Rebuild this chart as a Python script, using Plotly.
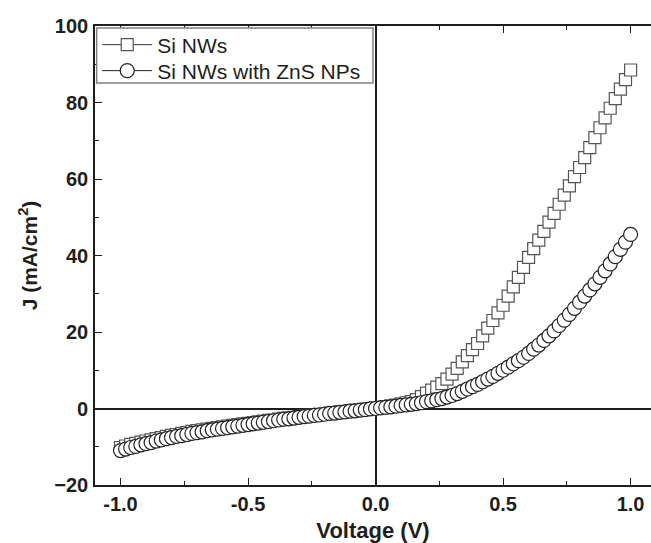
import plotly.graph_objects as go

voltage = [round(-1.0 + 0.02 * i, 2) for i in range(101)]

j_si_nws = [
    -10.2, -9.8, -9.4, -9.1, -8.8, -8.5, -8.2, -7.9, -7.6, -7.3,
    -7.0, -6.8, -6.5, -6.3, -6.0, -5.8, -5.6, -5.4, -5.2, -5.0,
    -4.8, -4.6, -4.4, -4.2, -4.0, -3.9, -3.7, -3.5, -3.3, -3.1,
    -3.0, -2.8, -2.6, -2.5, -2.3, -2.1, -2.0, -1.8, -1.7, -1.5,
    -1.4, -1.2, -1.1, -0.9, -0.8, -0.6, -0.5, -0.3, -0.2, 0.0,
    0.1,
    0.3, 0.5, 0.7, 0.9, 1.2, 1.5, 1.8, 2.3, 3.1, 4.0,
    4.8, 5.6, 6.5, 7.7, 9.0, 10.5, 12.2, 13.8, 15.4, 17.0,
    19.0, 21.0, 23.0, 25.0, 27.0, 29.4, 31.8, 34.3, 36.9, 39.5,
    41.8, 44.0, 46.3, 48.7, 51.0, 53.4, 55.8, 58.2, 60.6, 63.0,
    65.6, 68.2, 70.8, 73.4, 76.0, 78.5, 81.0, 83.5, 86.0, 88.5,
]

j_si_nws_zns = [
    -11.0, -10.6, -10.2, -9.9, -9.5, -9.2, -8.9, -8.5, -8.2, -7.9,
    -7.6, -7.3, -7.1, -6.8, -6.5, -6.3, -6.1, -5.8, -5.6, -5.4,
    -5.2, -5.0, -4.8, -4.6, -4.4, -4.2, -4.0, -3.8, -3.6, -3.4,
    -3.2, -3.0, -2.8, -2.7, -2.5, -2.3, -2.1, -2.0, -1.8, -1.7,
    -1.5, -1.3, -1.2, -1.0, -0.9, -0.7, -0.6, -0.4, -0.3, -0.1,
    0.0,
    0.15, 0.3, 0.45, 0.6, 0.8, 0.95, 1.1, 1.3, 1.5, 1.8,
    2.0, 2.3, 2.6, 3.0, 3.4, 3.9, 4.5, 5.1, 5.7, 6.3,
    7.0, 7.7, 8.4, 9.2, 10.0, 10.8, 11.7, 12.5, 13.4, 14.4,
    15.5, 16.6, 17.8, 19.0, 20.3, 21.7, 23.1, 24.6, 26.2, 27.8,
    29.4, 31.0, 32.6, 34.3, 36.0, 37.8, 39.7, 41.6, 43.5, 45.5,
]

series_names = ["Si NWs", "Si NWs with ZnS NPs"]
x_ticks = [-1.0, -0.5, 0.0, 0.5, 1.0]
x_tick_labels = ["-1.0", "-0.5", "0.0", "0.5", "1.0"]
y_ticks = [-20, 0, 20, 40, 60, 80, 100]

font_family = "Liberation Sans, Arial, sans-serif"
ink = "#1e1e1e"

fig = go.Figure()
fig.add_trace(go.Scatter(
    x=voltage, y=j_si_nws, name=series_names[0], mode="lines+markers",
    legend="legend",
    line=dict(color="#333333", width=1),
    marker=dict(symbol="square", size=12, color="white",
                line=dict(color="#555555", width=1.2)),
))
fig.add_trace(go.Scatter(
    x=voltage, y=j_si_nws_zns, name=series_names[1], mode="lines+markers",
    legend="legend2",
    line=dict(color="#222222", width=1),
    marker=dict(symbol="circle", size=14, color="white",
                line=dict(color="#222222", width=1.2)),
))

axis_common = dict(
    showline=True, linecolor=ink, linewidth=1.6,
    ticks="inside", tickcolor=ink, tickwidth=1.2, ticklen=7,
    showgrid=False, zeroline=True, zerolinecolor=ink, zerolinewidth=1.6,
    tickfont=dict(family=font_family, size=20, color=ink, weight="bold"),
)

fig.update_xaxes(
    **axis_common,
    mirror="ticks",
    range=[-1.1, 1.08],
    tickvals=x_ticks, ticktext=x_tick_labels,
    minor=dict(ticks="inside", ticklen=4, tickwidth=1, tickcolor=ink, dtick=0.25, tick0=0),
    title=dict(text="Voltage (V)", standoff=9,
               font=dict(family=font_family, size=22, color=ink, weight="bold")),
)
fig.update_yaxes(
    **axis_common,
    mirror=False,
    range=[-20, 100],
    tickvals=y_ticks,
    ticklabelstandoff=1,
    minor=dict(ticks="inside", ticklen=4, tickwidth=1, tickcolor=ink, dtick=10, tick0=0),
    title=dict(text="J (mA/cm<sup>2</sup>)", standoff=11,
               font=dict(family=font_family, size=21, color=ink, weight="bold")),
)

# legend frame (both legend rows sit inside one box)
fig.add_shape(type="rect", xref="paper", yref="paper",
              x0=0.003, x1=0.5, y0=0.876, y1=0.9956, layer="above",
              fillcolor="white", line=dict(color="#808080", width=1.5))

legend_common = dict(
    xanchor="left", yanchor="middle", x=0.004,
    bgcolor="rgba(0,0,0,0)", borderwidth=0,
    font=dict(family=font_family, size=21, color=ink),
    itemwidth=50,
)

fig.update_layout(
    width=651, height=543,
    margin=dict(l=95, r=0, t=26, b=58),
    paper_bgcolor="white", plot_bgcolor="white",
    showlegend=True,
    legend=dict(**legend_common, y=0.9586),
    legend2=dict(**legend_common, y=0.902),
)

fig.write_html("out.html")
